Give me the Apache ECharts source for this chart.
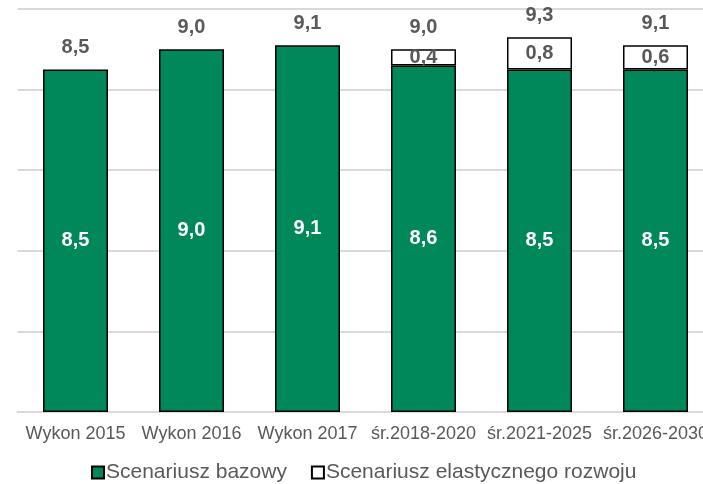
<!DOCTYPE html>
<html>
<head>
<meta charset="utf-8">
<script src="https://cdn.jsdelivr.net/npm/echarts@6/dist/echarts.min.js"></script>
<style>
  html, body { margin: 0; padding: 0; background: #fff; }
  #chart { width: 703px; height: 484px; }
</style>
</head>
<body>
<div id="chart"></div>
<script>
// dane
const categories = ['Wykon 2015', 'Wykon 2016', 'Wykon 2017', 'śr.2018-2020', 'śr.2021-2025', 'śr.2026-2030'];
const baseValues = [8.5, 9.0, 9.1, 8.6, 8.5, 8.5];
const elasticValues = [null, null, null, 0.4, 0.8, 0.6];
const seriesNames = ['Scenariusz bazowy', 'Scenariusz elastycznego rozwoju'];
const totals = baseValues.map((v, i) => v + (elasticValues[i] || 0));

const fmt = v => Number(v).toFixed(1).replace('.', ',');
const font = 'Liberation Sans, Arial, sans-serif';

const chart = echarts.init(document.getElementById('chart'));

const option = {
  animation: false,
  grid: {
    left: 17.5,
    width: 696,
    top: 9,
    bottom: 72,
    containLabel: false,
    outerBoundsMode: 'none'
  },
  legend: {
    data: seriesNames,
    left: 86,
    top: 457,
    icon: 'rect',
    itemWidth: 12,
    itemHeight: 12,
    itemGap: 24,
    textStyle: {
      fontFamily: font,
      fontSize: 21,
      color: '#595959',
      padding: [0, 0, 0, -3]
    }
  },
  xAxis: {
    type: 'category',
    data: categories,
    axisLine: { lineStyle: { color: '#d9d9d9', width: 2 } },
    axisTick: { show: false },
    axisLabel: {
      interval: 0,
      margin: 13,
      fontFamily: font,
      fontSize: 18,
      color: '#595959'
    }
  },
  yAxis: {
    type: 'value',
    min: 0,
    max: 10,
    interval: 2,
    axisLabel: { show: false },
    axisLine: { show: false },
    axisTick: { show: false },
    splitLine: { lineStyle: { color: '#d9d9d9', width: 2 } }
  },
  series: [
    {
      name: seriesNames[0],
      type: 'bar',
      stack: 'total',
      barWidth: 65,
      data: baseValues,
      itemStyle: { color: '#00875a', borderColor: '#000', borderWidth: 1.5 },
      label: {
        show: true,
        position: 'inside',
        formatter: p => fmt(p.value),
        fontFamily: font,
        fontSize: 20,
        fontWeight: 'bold',
        color: '#fff'
      }
    },
    {
      name: seriesNames[1],
      type: 'bar',
      stack: 'total',
      barWidth: 65,
      data: elasticValues,
      itemStyle: { color: '#fff', borderColor: '#000', borderWidth: 1.5 },
      label: {
        show: true,
        position: 'inside',
        formatter: p => fmt(p.value),
        fontFamily: font,
        fontSize: 20,
        fontWeight: 'bold',
        color: '#595959'
      }
    },
    {
      // etykiety sum nad słupkami
      name: 'suma',
      type: 'bar',
      stack: 'total',
      barWidth: 65,
      data: totals.map(() => 0),
      itemStyle: { color: 'transparent', borderWidth: 0 },
      label: {
        show: true,
        position: 'top',
        distance: 12,
        formatter: p => fmt(totals[p.dataIndex]),
        fontFamily: font,
        fontSize: 20,
        fontWeight: 'bold',
        color: '#595959'
      }
    }
  ]
};

chart.setOption(option);
</script>
</body>
</html>
